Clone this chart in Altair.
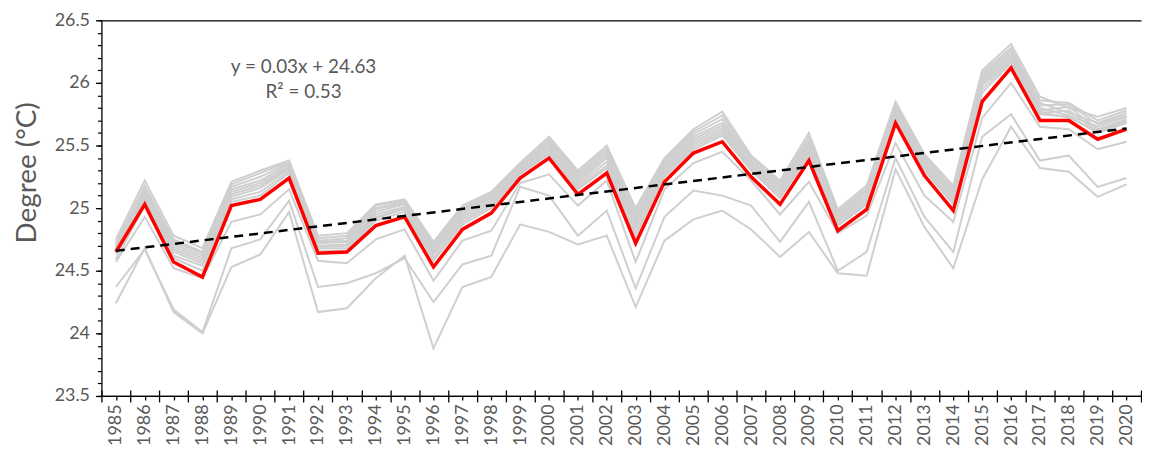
import altair as alt
import pandas as pd

years = list(range(1985, 2021))

red_mean = [24.65, 25.03, 24.57, 24.45, 25.02, 25.07, 25.24, 24.64, 24.65, 24.86,
            24.93, 24.53, 24.83, 24.96, 25.24, 25.40, 25.11, 25.28, 24.72, 25.21,
            25.44, 25.53, 25.25, 25.03, 25.38, 24.82, 24.99, 25.68, 25.26, 24.98,
            25.85, 26.12, 25.70, 25.70, 25.55, 25.63]

grey_c1 = [24.75, 25.22, 24.78, 24.68, 25.21, 25.30, 25.38, 24.78, 24.80, 25.03, 25.07, 24.73, 25.02, 25.13, 25.36, 25.57, 25.30, 25.50, 25.00, 25.40, 25.63, 25.77, 25.42, 25.22, 25.60, 24.99, 25.18, 25.85, 25.43, 25.18, 26.10, 26.31, 25.89, 25.80, 25.73, 25.80]
grey_c2 = [24.72, 25.18, 24.75, 24.65, 25.19, 25.28, 25.37, 24.76, 24.78, 25.02, 25.06, 24.71, 25.00, 25.12, 25.34, 25.55, 25.28, 25.48, 24.97, 25.38, 25.61, 25.74, 25.40, 25.20, 25.57, 24.97, 25.16, 25.83, 25.41, 25.16, 26.08, 26.28, 25.86, 25.84, 25.70, 25.78]
grey_c3 = [24.70, 25.15, 24.73, 24.64, 25.17, 25.25, 25.36, 24.74, 24.76, 25.00, 25.05, 24.70, 24.99, 25.10, 25.33, 25.53, 25.26, 25.46, 24.94, 25.36, 25.59, 25.71, 25.38, 25.18, 25.54, 24.96, 25.14, 25.81, 25.39, 25.14, 26.06, 26.26, 25.84, 25.76, 25.68, 25.76]
grey_c4 = [24.69, 25.13, 24.71, 24.62, 25.15, 25.22, 25.35, 24.73, 24.74, 24.99, 25.04, 24.68, 24.97, 25.09, 25.32, 25.51, 25.24, 25.44, 24.92, 25.34, 25.57, 25.68, 25.37, 25.17, 25.52, 24.94, 25.12, 25.79, 25.37, 25.12, 26.04, 26.24, 25.82, 25.83, 25.67, 25.74]
grey_c5 = [24.68, 25.11, 24.69, 24.60, 25.13, 25.20, 25.33, 24.72, 24.73, 24.97, 25.03, 24.67, 24.95, 25.08, 25.31, 25.50, 25.22, 25.42, 24.90, 25.32, 25.55, 25.66, 25.35, 25.15, 25.50, 24.93, 25.10, 25.78, 25.35, 25.10, 26.02, 26.22, 25.80, 25.74, 25.65, 25.73]
grey_c6 = [24.67, 25.09, 24.67, 24.58, 25.11, 25.18, 25.32, 24.70, 24.71, 24.95, 25.01, 24.65, 24.93, 25.06, 25.30, 25.48, 25.20, 25.40, 24.87, 25.30, 25.53, 25.64, 25.34, 25.13, 25.48, 24.91, 25.08, 25.76, 25.34, 25.08, 26.00, 26.20, 25.78, 25.81, 25.63, 25.71]
grey_c7 = [24.66, 25.07, 24.65, 24.56, 25.09, 25.16, 25.31, 24.69, 24.70, 24.93, 25.00, 24.63, 24.91, 25.04, 25.29, 25.46, 25.18, 25.37, 24.84, 25.28, 25.51, 25.62, 25.32, 25.11, 25.46, 24.89, 25.06, 25.74, 25.32, 25.06, 25.98, 26.18, 25.77, 25.72, 25.62, 25.70]
grey_c8 = [24.63, 25.05, 24.62, 24.54, 25.07, 25.13, 25.29, 24.68, 24.68, 24.92, 24.99, 24.60, 24.89, 25.02, 25.28, 25.44, 25.16, 25.34, 24.80, 25.27, 25.49, 25.60, 25.31, 25.09, 25.44, 24.87, 25.04, 25.72, 25.31, 25.04, 25.95, 26.17, 25.76, 25.78, 25.61, 25.69]
grey_c9 = [24.59, 25.02, 24.60, 24.50, 25.05, 25.10, 25.28, 24.66, 24.66, 24.90, 24.97, 24.58, 24.87, 25.00, 25.27, 25.43, 25.15, 25.32, 24.78, 25.25, 25.47, 25.58, 25.30, 25.08, 25.42, 24.86, 25.03, 25.70, 25.30, 25.03, 25.92, 26.16, 25.75, 25.73, 25.60, 25.68]
grey_low3 = [24.57, 24.93, 24.52, 24.44, 24.89, 24.95, 25.15, 24.58, 24.56, 24.75, 24.83, 24.42, 24.74, 24.82, 25.20, 25.27, 25.02, 25.22, 24.57, 25.15, 25.36, 25.45, 25.22, 24.95, 25.21, 24.80, 24.94, 25.52, 25.10, 24.89, 25.72, 26.00, 25.65, 25.63, 25.47, 25.53]
grey_low2 = [24.37, 24.67, 24.19, 24.01, 24.68, 24.75, 25.06, 24.37, 24.40, 24.48, 24.60, 24.25, 24.55, 24.62, 25.17, 25.10, 24.78, 24.98, 24.36, 24.93, 25.14, 25.10, 25.02, 24.73, 25.05, 24.50, 24.65, 25.40, 24.93, 24.65, 25.57, 25.75, 25.38, 25.42, 25.17, 25.24]
grey_low1 = [24.24, 24.68, 24.17, 24.00, 24.53, 24.63, 24.97, 24.17, 24.20, 24.44, 24.62, 23.88, 24.37, 24.45, 24.87, 24.81, 24.71, 24.78, 24.21, 24.74, 24.91, 24.98, 24.83, 24.61, 24.81, 24.48, 24.46, 25.31, 24.85, 24.52, 25.23, 25.65, 25.32, 25.29, 25.09, 25.19]

grey_series = {
    "c1": grey_c1, "c2": grey_c2, "c3": grey_c3, "c4": grey_c4, "c5": grey_c5,
    "c6": grey_c6, "c7": grey_c7, "c8": grey_c8, "c9": grey_c9,
    "low3": grey_low3, "low2": grey_low2, "low1": grey_low1,
}

annotation_text = "y = 0.03x + 24.63\nR\u00b2 = 0.53"
y_title = "Degree (\u00b0C)"

rows = []
for name, vals in grey_series.items():
    for yr, v in zip(years, vals):
        rows.append({"year": yr, "series": name, "value": v})
grey_df = pd.DataFrame(rows)
red_df = pd.DataFrame({"year": years, "value": red_mean})
text_df = pd.DataFrame({"label": [annotation_text]})

W, H = 1046, 378
FONT = "Lato"
LABEL_COLOR = "#595959"

xscale = alt.Scale(domain=[years[0] - 0.5, years[-1] + 0.5], nice=False, zero=False)
yscale = alt.Scale(domain=[23.5, 26.5], nice=False, zero=False)

x_major = [yr - 0.5 for yr in years] + [years[-1] + 0.5]
y_major = [round(23.5 + 0.5 * i, 1) for i in range(7)]
y_minor = [round(23.5 + 0.1 * i, 1) for i in range(31)]

grey = alt.Chart(grey_df).mark_line(color="#cfcfcf", strokeWidth=2).encode(
    x=alt.X("year:Q", scale=xscale, axis=alt.Axis(
        orient="bottom", values=x_major, labels=False, tickSize=6, tickWidth=1.3,
        tickColor="#000000", domainColor="#000000", domainWidth=1.3, grid=False, title=None)),
    y=alt.Y("value:Q", scale=yscale, axis=alt.Axis(
        orient="left", values=y_major, format="~f", tickSize=6, tickWidth=1.3,
        tickColor="#000000", domainColor="#000000", domainWidth=1.3, grid=False,
        labelFont=FONT, labelFontSize=18, labelColor=LABEL_COLOR, labelPadding=6,
        title=y_title, titleFont=FONT, titleFontSize=28, titleFontWeight="normal",
        titleColor=LABEL_COLOR, titleX=-88, titleY=153, titleBaseline="top",
        titleAlign="center", titleAngle=270)),
    detail="series:N",
)

red = alt.Chart(red_df).mark_line(color="#ff0000", strokeWidth=3.5).encode(
    x=alt.X("year:Q", scale=xscale, axis=alt.Axis(
        orient="bottom", values=years, format="d", labelAngle=-90, tickSize=4, tickWidth=1.3,
        tickColor="#000000", domainColor="#000000", domainWidth=1.3, grid=False,
        labelFont=FONT, labelFontSize=18, labelColor=LABEL_COLOR, labelPadding=4,
        labelOverlap=False, title=None)),
    y=alt.Y("value:Q", scale=yscale, axis=alt.Axis(
        orient="left", values=y_minor, labels=False, tickSize=4, tickWidth=1.2,
        tickColor="#000000", domain=False, grid=False, title=None)),
)

trend = alt.Chart(red_df).transform_regression("year", "value").mark_line(
    color="#000000", strokeWidth=2.5, strokeDash=[9, 6]
).encode(
    x=alt.X("year:Q", scale=xscale, axis=alt.Axis(
        orient="top", labels=False, ticks=False, domain=True, domainColor="#000000",
        domainWidth=1.3, grid=False, title=None)),
    y=alt.Y("value:Q", scale=yscale, axis=None),
)

note = alt.Chart(text_df).mark_text(
    font=FONT, fontSize=19, color=LABEL_COLOR, align="center", baseline="alphabetic",
    lineBreak="\n", lineHeight=25
).encode(
    x=alt.X(datum=1991.5, type="quantitative", scale=xscale, axis=alt.Axis(
        orient="top", offset=-H, values=x_major, labels=False, domain=False,
        tickSize=6, tickWidth=1.3, tickColor="#000000", grid=False, title=None)),
    y=alt.Y(datum=26.08, type="quantitative", scale=yscale, axis=None),
    text="label:N",
)

chart = alt.layer(grey, red, trend, note).resolve_axis(
    x="independent", y="independent"
).properties(
    width=W, height=H, background="#ffffff",
    padding={"left": 6, "top": 2, "right": 0, "bottom": 0},
).configure_view(stroke=None)

chart.save("out.html", embed_options={"renderer": "svg", "actions": False})
